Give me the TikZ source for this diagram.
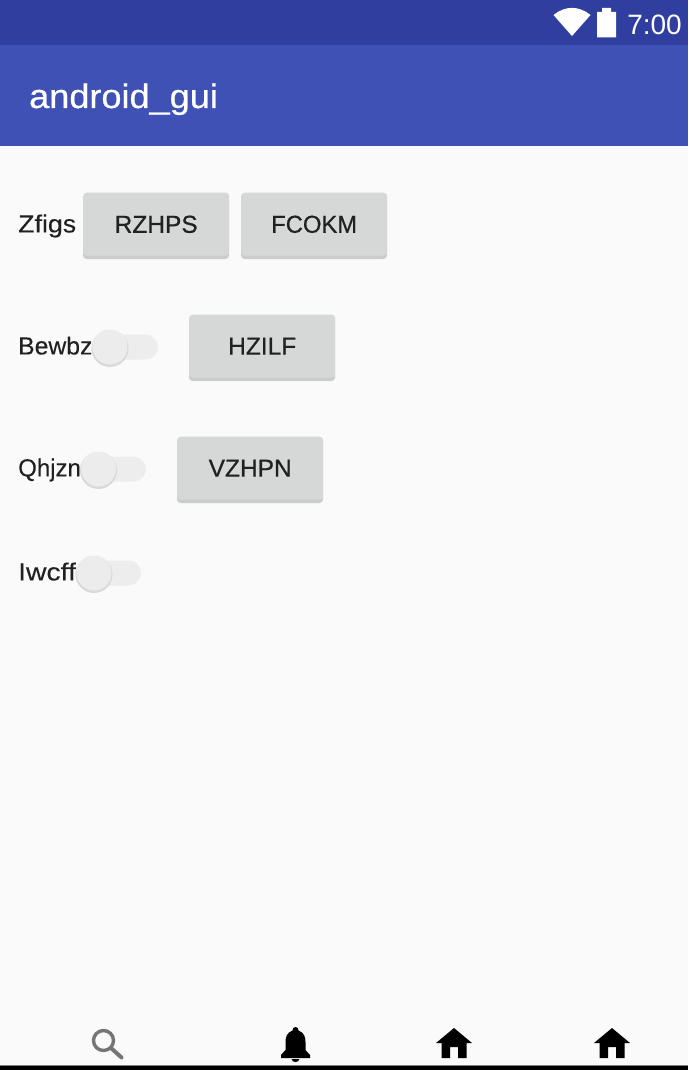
\documentclass[tikz,border=0pt]{standalone}
\usepackage{fontspec}
\setmainfont{Liberation Sans}
\newfontfamily\medfont[FakeBold=0.6]{Liberation Sans}
\newfontfamily\lblfont[FakeBold=0.2]{Liberation Sans}
\definecolor{statusbar}{HTML}{303F9F}
\definecolor{appbar}{HTML}{3F51B5}
\definecolor{pagebg}{HTML}{FAFAFA}
\definecolor{btnface}{HTML}{D6D7D7}
\definecolor{btnshade}{HTML}{CBCCCC}
\definecolor{inktext}{HTML}{212121}
\definecolor{tracktone}{HTML}{EDEDED}
\definecolor{thumbtone}{HTML}{ECECEC}
\definecolor{thumbshade}{HTML}{D9D9D9}
\definecolor{searchgray}{HTML}{757575}
\tikzset{
  btn/.style={rounded corners=3.5pt,fill=btnface,draw=none,minimum width=146pt,minimum height=63pt,inner sep=0pt,
     font=\fontsize{24.5}{24.5}\selectfont\medfont,text=inktext,anchor=north west,text depth=0pt},
  lbl/.style={font=\fontsize{24}{24}\selectfont\lblfont,text=inktext,anchor=west,inner sep=0pt},
  homeicon/.style={fill=black,draw=none,even odd rule},
}
\newcommand{\mybtn}[4]{%
  \fill[btnshade,rounded corners=3.5pt] (#1,#2+3) rectangle (#1+146,#2+66);
  \node[btn] (#3) at (#1,#2-0.5) {#4};
}
\newcommand{\myswitch}[4]{% thumb cx, cy, track right, name
  \fill[tracktone,rounded corners=12.5pt] (#1-8,#2-12.5) rectangle (#3,#2+12.5);
  \fill[thumbshade] (#1,#2+1.5) circle (18.5);
  \node[circle,fill=thumbtone,minimum size=35pt,inner sep=0pt] (#4) at (#1,#2) {};
}
\newcommand{\myhome}[1]{%
  \fill[homeicon] (#1,1043) -- (#1+18,1028) -- (#1+36,1043) -- (#1+30.5,1043) -- (#1+30.5,1058)
    -- (#1+22,1058) -- (#1+22,1047) -- (#1+14,1047) -- (#1+14,1058) -- (#1+5.5,1058) -- (#1+5.5,1043) -- cycle;
}
\begin{document}
\begin{tikzpicture}[x=1pt,y=-1pt]
\useasboundingbox (0,0) rectangle (688,1070);
\fill[pagebg] (0,0) rectangle (688,1070);
\fill[statusbar] (0,0) rectangle (688,45);
\fill[appbar] (0,45) rectangle (688,146);
% status icons
\fill[white] (553.5,15) .. controls (565,5.5) and (579,5.5) .. (590.5,15) -- (572,36) -- cycle;
\fill[white] (597,12) -- (602,12) -- (602,8) -- (611,8) -- (611,12) -- (616,12) -- (616,37.5) -- (597,37.5) -- cycle;
\node[font=\fontsize{28}{28}\selectfont,text=white,anchor=base east,inner sep=0pt] (clock) at (682,34.5) {7:00};
\node[font=\fontsize{36}{36}\selectfont\medfont,text=white,anchor=base west,inner sep=0pt] (apptitle) at (29,108) {\scalebox{1.003}[0.94]{android\_gui}};
% row 1
\node[lbl] (zfigs) at (18,226) {\vphantom{Zg}\scalebox{1.115}[1.03]{Zfigs}};
\mybtn{83}{193}{rzhps}{RZHPS}
\mybtn{241}{193}{fcokm}{\scalebox{0.97}[1]{FCOKM}}
% row 2
\node[lbl] (bewbz) at (18,348) {\vphantom{Zg}\scalebox{1.03}[1.03]{Bewbz}};
\myswitch{110}{347}{158}{swa}
\mybtn{189}{315}{hzilf}{HZILF}
% row 3
\node[lbl] (qhjzn) at (18,470) {\vphantom{Zg}\scalebox{1}[1.03]{Qhjzn}};
\myswitch{98.5}{469}{146}{swb}
\mybtn{177}{437}{vzhpn}{VZHPN}
% row 4
\node[lbl] (iwcff) at (18,574) {\vphantom{Zg}\scalebox{1.18}[1.03]{Iwcff}};
\myswitch{94}{573}{141}{swc}
% bottom bar
\fill[black] (0,1066) rectangle (688,1070);
\fill[gray] (0,1065) rectangle (688,1066);
\draw[searchgray,line width=3.4pt] (103.5,1040.5) circle (10);
\draw[searchgray,line width=4pt,line cap=round] (111,1048) -- (121.5,1057.5);
% bell
\fill[black] (295.5,1027) .. controls (293.5,1027) and (292.5,1028.5) .. (292.5,1030.5)
  .. controls (287,1032.5) and (285.5,1037) .. (285.5,1042) -- (285.5,1050) -- (281,1055) -- (281,1058)
  -- (310,1058) -- (310,1055) -- (305.5,1050) -- (305.5,1042)
  .. controls (305.5,1037) and (304,1032.5) .. (298.5,1030.5)
  .. controls (298.5,1028.5) and (297.5,1027) .. (295.5,1027) -- cycle;
\fill[black] (291.5,1059) -- (299.5,1059) .. controls (299,1061) and (297.5,1062) .. (295.5,1062) .. controls (293.5,1062) and (292,1061) .. (291.5,1059) -- cycle;
\myhome{436}
\myhome{594}
\end{tikzpicture}
\end{document}
